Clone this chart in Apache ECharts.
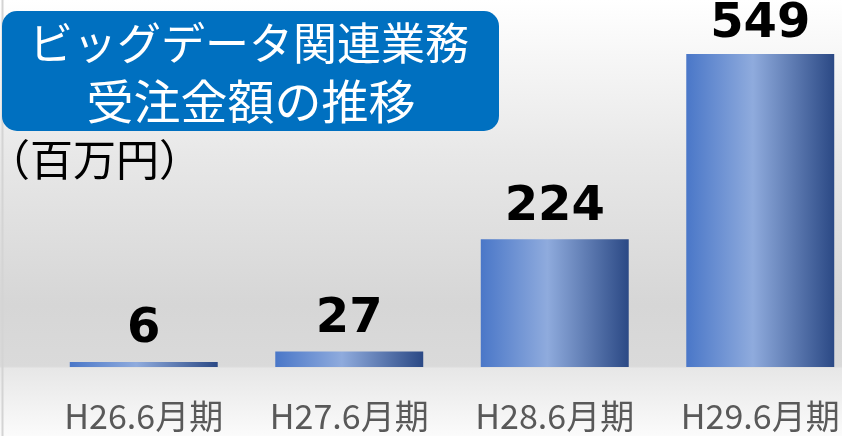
<!DOCTYPE html>
<html>
<head>
<meta charset="utf-8">
<script src="https://cdn.jsdelivr.net/npm/echarts@6/dist/echarts.min.js"></script>
<style>
  html, body { margin: 0; padding: 0; }
  #main { width: 842px; height: 436px; }
</style>
</head>
<body>
<div id="main"></div>
<script>
// データ
var categories = ['H26.6月期', 'H27.6月期', 'H28.6月期', 'H29.6月期'];
var values = [6, 27, 224, 549];
var titleLines = ['ビッグデータ関連業務', '受注金額の推移'];
var unitText = '（百万円）';

var chart = echarts.init(document.getElementById('main'));

// 棒のグラデーション（左→中央が明るい→右が濃い）
var barColor = new echarts.graphic.LinearGradient(0, 0, 1, 0, [
  { offset: 0, color: '#4a77c8' },
  { offset: 0.45, color: '#8fabdd' },
  { offset: 1, color: '#2b4985' }
]);

var option = {
  backgroundColor: new echarts.graphic.LinearGradient(0, 0, 0, 1, [
    { offset: 0, color: '#ffffff' },
    { offset: 0.35, color: '#e8e8e8' },
    { offset: 0.7, color: '#d6d6d6' },
    { offset: 0.84, color: '#dadada' },
    { offset: 0.845, color: '#e7e7e7' },
    { offset: 1, color: '#fbfbfb' }
  ]),
  grid: { left: 41, right: -21, top: 25, bottom: 69, outerBoundsMode: 'none' },
  xAxis: {
    type: 'category',
    data: categories,
    axisLine: { show: false },
    axisTick: { show: false },
    axisLabel: {
      interval: 0,
      color: '#595959',
      fontSize: 34,
      fontFamily: 'Noto Sans CJK JP',
      margin: 32
    }
  },
  yAxis: {
    type: 'value',
    min: 0,
    max: 600,
    show: false,
    splitLine: { show: false }
  },
  series: [{
    type: 'bar',
    data: values,
    barWidth: '72%',
    barMinHeight: 5,
    itemStyle: { color: barColor },
    label: {
      show: true,
      position: 'top',
      distance: 8,
      color: '#000',
      fontSize: 48,
      fontWeight: 'bold',
      fontFamily: 'DejaVu Sans'
    },
    // 上端にはみ出すラベルは枠内に収める
    labelLayout: function (p) {
      if (p.labelRect.y < 1) {
        return { dy: 1 - p.labelRect.y };
      }
      return {};
    }
  }],
  graphic: [
    {
      type: 'line',
      shape: { x1: 2.5, y1: 0, x2: 2.5, y2: 436 },
      style: { stroke: '#d4d4d4', lineWidth: 2 }
    },
    {
      type: 'rect',
      shape: { x: 2, y: 11, width: 497, height: 120, r: 15 },
      style: { fill: '#0070c0' }
    },
    {
      type: 'text',
      x: 249, y: 43,
      style: {
        text: titleLines[0], fill: '#fff', fontSize: 44,
        fontFamily: 'Noto Sans CJK JP', align: 'center', verticalAlign: 'middle'
      }
    },
    {
      type: 'text',
      x: 251, y: 101,
      style: {
        text: titleLines[1], fill: '#fff', fontSize: 47,
        fontFamily: 'Noto Sans CJK JP', align: 'center', verticalAlign: 'middle'
      }
    },
    {
      type: 'text',
      x: -13, y: 160,
      style: {
        text: unitText, fill: '#000', fontSize: 43,
        fontFamily: 'Noto Sans CJK JP', verticalAlign: 'middle'
      }
    }
  ]
};

chart.setOption(option);
</script>
</body>
</html>
